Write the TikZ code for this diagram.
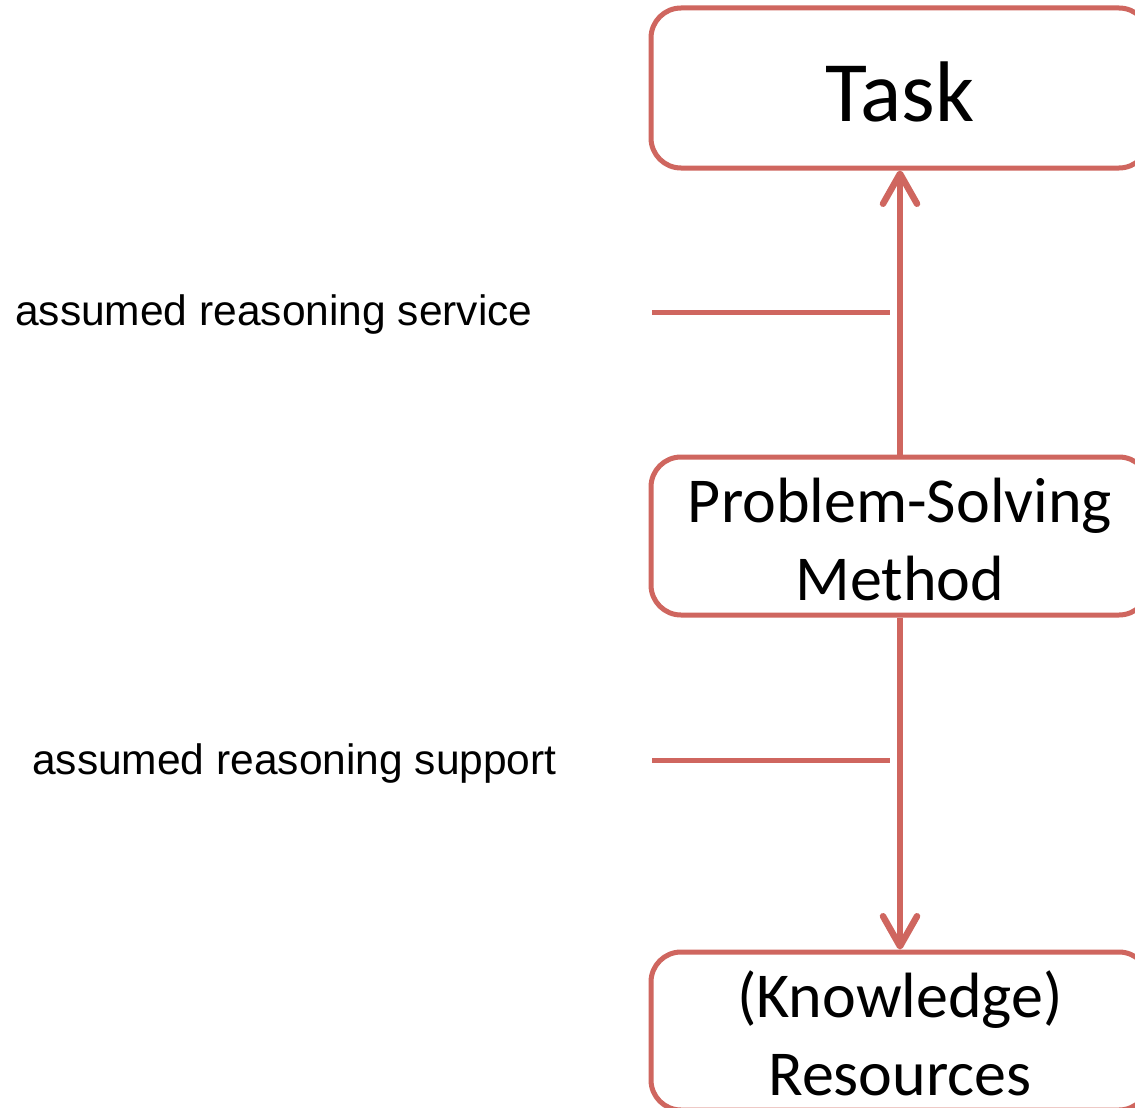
\documentclass[tikz,border=0pt]{standalone}
\usepackage{fontspec}
\setmainfont{Liberation Sans}
\newfontfamily\boxfont{Carlito}
\usetikzlibrary{arrows.meta}
\definecolor{linered}{RGB}{207,102,95}
\begin{document}
\begin{tikzpicture}[x=1pt,y=-1pt,
  blockbox/.style={draw=linered, line width=5pt, rounded corners=30pt,
    minimum width=498pt, inner sep=0pt},
  boxtext/.style={align=center, inner sep=0pt, font=\boxfont\fontsize{64}{78}\selectfont},
  flowarrow/.style={draw=linered, line width=6.5pt,
    -{Straight Barb[length=30pt, width=34pt, line cap=round, line join=round]}},
  tickline/.style={draw=linered, line width=5pt},
  sidelabel/.style={anchor=base west, inner sep=0pt, font=\fontsize{42.5}{50}\selectfont}]
\clip (0,0) rectangle (1135,1108);
\fill[white] (0,0) rectangle (1135,1108);
\node[blockbox, minimum height=160pt] (task) at (900,88) {};
\node[blockbox, minimum height=158pt] (psm) at (900,536) {};
\node[blockbox, minimum height=158pt] (kr) at (900,1031) {};
\node[boxtext, font=\boxfont\fontsize{86}{100}\selectfont] (tasktext) at ([yshift=-4pt]task.center) {Task};
\node[boxtext] (psmtext) at ([yshift=-4pt]psm.center) {Problem-Solving\\Method};
\node[boxtext] (krtext) at ([yshift=-2pt]kr.center) {(Knowledge)\\Resources};
\draw[flowarrow] (psm.north) -- (task.south);
\draw[flowarrow] (psm.south) -- (kr.north);
\coordinate (s1) at (652,312);
\coordinate (s2) at (890,312);
\coordinate (r1) at (652,760);
\coordinate (r2) at (890,760);
\draw[tickline] (s1) -- (s2);
\draw[tickline] (r1) -- (r2);
\node[sidelabel] (lserv) at (15,325) {assumed reasoning service};
\node[sidelabel] (lsupp) at (32,774) {assumed reasoning support};
\end{tikzpicture}
\end{document}
